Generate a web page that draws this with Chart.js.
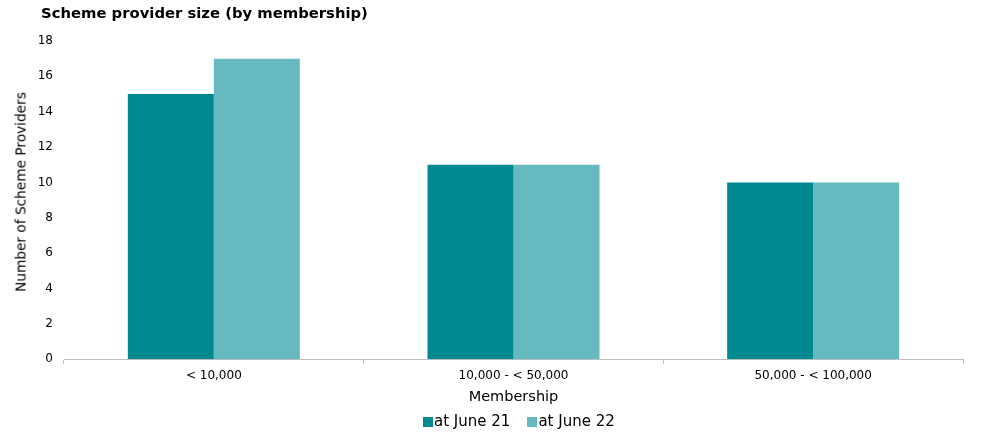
<!DOCTYPE html>
<html>
<head>
<meta charset="utf-8">
<script src="https://cdn.jsdelivr.net/npm/chart.js@4/dist/chart.umd.min.js"></script>
<style>
  body { margin: 0; background: #fff; font-family: Verdana, 'DejaVu Sans', sans-serif; color: #000; }
  #wrap { position: relative; width: 990px; height: 433px; }
  #title { position: absolute; left: 41px; top: 4px; font-size: 14.8px; font-weight: bold; line-height: 18px; white-space: nowrap; }
  #ytitle { position: absolute; left: 21px; top: 192px; font-size: 13.7px; line-height: 17px; white-space: nowrap;
            transform: translate(-50%, -50%) rotate(-90deg); }
  #legend { position: absolute; left: 423px; top: 412px; display: flex; font-size: 15px; line-height: 18px; white-space: nowrap; }
  #legend .item { display: flex; align-items: center; margin-right: 17px; }
  #legend .box { width: 10px; height: 10px; margin-right: 1px; margin-top: 1px; }
</style>
</head>
<body>
<div id="wrap">
  <canvas id="providers-chart" width="990" height="433"></canvas>
  <div id="title">Scheme provider size (by membership)</div>
  <div id="ytitle">Number of Scheme Providers</div>
  <div id="legend"></div>
</div>
<script>
const categories = ['< 10,000', '10,000 - < 50,000', '50,000 - < 100,000'];
const june21 = [15, 11, 10];
const june22 = [17, 11, 10];
const yTicks = [0, 2, 4, 6, 8, 10, 12, 14, 16, 18];

const font = "Verdana, 'DejaVu Sans', sans-serif";

const chart = new Chart(document.getElementById('providers-chart'), {
    type: 'bar',
    data: {
        labels: categories,
        datasets: [
            { label: 'at June 21', data: june21, backgroundColor: '#008A90' },
            { label: 'at June 22', data: june22, backgroundColor: '#66B9BF' }
        ]
    },
    options: {
        responsive: false,
        animation: false,
        layout: { padding: { left: 13, right: 27, top: 41, bottom: 27 } },
        datasets: { bar: { categoryPercentage: 0.574, barPercentage: 1 } },
        plugins: {
            legend: { display: false },
            tooltip: { enabled: false }
        },
        scales: {
            x: {
                grid: { display: true, drawOnChartArea: false, tickLength: 5, color: '#bfbfbf', offset: true },
                border: { color: '#bfbfbf' },
                ticks: { color: '#000', font: { family: font, size: 12 }, padding: 4 },
                title: { display: true, text: 'Membership', color: '#000', font: { family: font, size: 14.5 }, padding: { top: 2, bottom: 0 } }
            },
            y: {
                min: 0,
                max: 18,
                afterBuildTicks: axis => { axis.ticks = yTicks.map(v => ({ value: v })); },
                afterFit: axis => { axis.width = 51; },
                grid: { display: false, drawTicks: false },
                border: { display: false },
                ticks: { color: '#000', font: { family: font, size: 12 }, padding: 11 }
            }
        }
    }
});

// legend drawn as html below the chart
const legend = document.getElementById('legend');
chart.data.datasets.forEach(ds => {
    const item = document.createElement('div');
    item.className = 'item';
    const box = document.createElement('span');
    box.className = 'box';
    box.style.background = ds.backgroundColor;
    const text = document.createElement('span');
    text.textContent = ds.label;
    item.appendChild(box);
    item.appendChild(text);
    legend.appendChild(item);
});
</script>
</body>
</html>
